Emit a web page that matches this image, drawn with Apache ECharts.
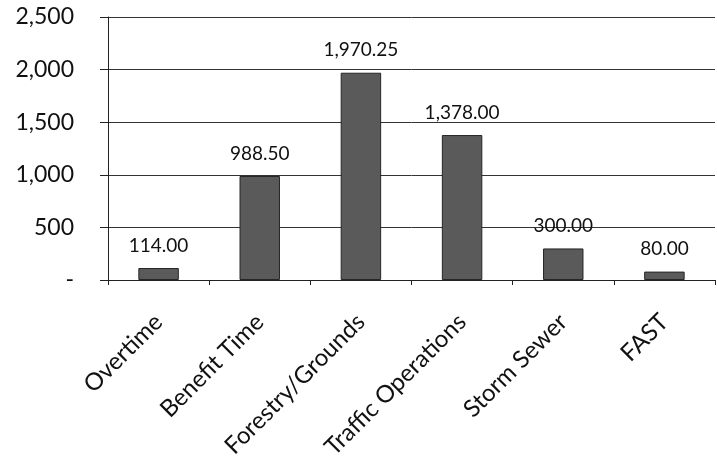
<!DOCTYPE html>
<html>
<head>
<meta charset="utf-8">
<script src="https://cdn.jsdelivr.net/npm/echarts@6/dist/echarts.min.js"></script>
<style>
  html, body { margin: 0; padding: 0; background: #fff; }
  #chart { width: 717px; height: 461px; }
</style>
</head>
<body>
<div id="chart"></div>
<script>
// Hours by work area
const categories = ['Overtime', 'Benefit Time', 'Forestry/Grounds', 'Traffic Operations', 'Storm Sewer', 'FAST'];
const hours = [114.00, 988.50, 1970.25, 1378.00, 300.00, 80.00];

const yMin = 0;
const yMax = 2500;
const yStep = 500;

const FONT = 'Lato, "Open Sans", sans-serif';

function fmtTick(v) {
  if (v === 0) return '-';
  return v.toLocaleString('en-US');
}
function fmtValue(v) {
  return v.toLocaleString('en-US', { minimumFractionDigits: 2, maximumFractionDigits: 2 });
}

const chart = echarts.init(document.getElementById('chart'), null, { renderer: 'canvas' });
chart.setOption({
  animation: false,
  backgroundColor: '#ffffff',
  grid: { left: 108, right: 2, top: 17, bottom: 181, containLabel: false, outerBoundsMode: 'none' },
  xAxis: {
    type: 'category',
    data: categories,
    axisLine: { show: true, lineStyle: { color: '#222', width: 1 } },
    axisTick: { show: true, length: 5, alignWithLabel: false, lineStyle: { color: '#222' } },
    axisLabel: {
      rotate: 45,
      margin: 38,
      interval: 0,
      color: '#111',
      fontFamily: FONT,
      fontSize: 24
    }
  },
  yAxis: {
    type: 'value',
    min: yMin,
    max: yMax,
    interval: yStep,
    axisLine: { show: true, lineStyle: { color: '#222', width: 1 } },
    axisTick: { show: true, length: 8, lineStyle: { color: '#222' } },
    splitLine: { show: true, lineStyle: { color: '#333', width: 1 } },
    axisLabel: {
      margin: 34,
      color: '#111',
      fontFamily: FONT,
      fontSize: 23,
      formatter: fmtTick
    }
  },
  series: [{
    type: 'bar',
    data: hours,
    barWidth: '40%',
    itemStyle: { color: '#5a5a5a', borderColor: '#262626', borderWidth: 1 },
    label: {
      show: true,
      position: 'top',
      distance: 13,
      color: '#111',
      fontFamily: FONT,
      fontSize: 19,
      formatter: p => fmtValue(p.value)
    }
  }]
});
</script>
</body>
</html>
